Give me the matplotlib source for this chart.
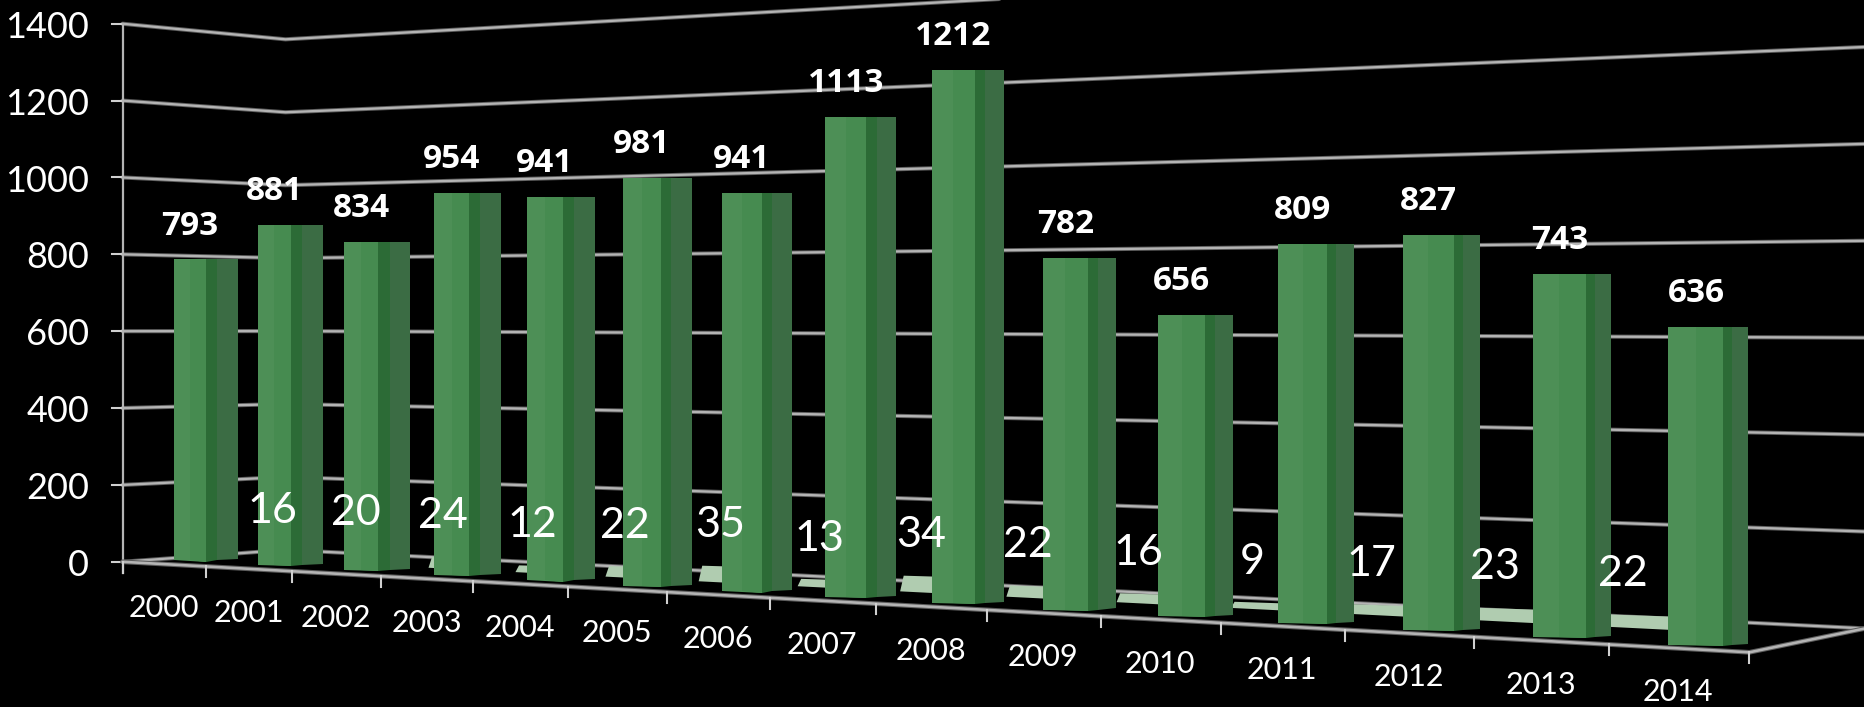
import matplotlib
matplotlib.use("Agg")
import matplotlib.pyplot as plt
from matplotlib.patches import Polygon

years = [str(y) for y in range(2000, 2015)]
series_a = [793, 881, 834, 954, 941, 981, 941, 1113, 1212, 782, 656, 809, 827, 743, 636]
# second series starts one year later, no value for 2000
series_b = [16, 20, 24, 12, 22, 35, 13, 34, 22, 16, 9, 17, 23, 22]
y_ticks = [0, 200, 400, 600, 800, 1000, 1200, 1400]

LINE = "#b4b4b4"
FRONT = "#4d8f56"
FRONT_DARK = "#468b50"
RIDGE = "#2c6b36"
SIDE = "#3b6c44"
PALE = "#b0ccb0"


# perspective of the old 3D chart, in units of the downscaled 1568x594 view
def px(t):
    return (103 + 67.17 * t) / (1 - 0.01633 * t)


def floor_front(x):
    return 472 + (x - 103) * 0.0556


def bar_scale(x):
    return 0.3135 + 7.88e-5 * (x - 103)


def bar_y(x, v):
    return 467 + 0.0556 * (x - 103) - v * bar_scale(x)


def wall_back(x, v):
    f = (x - 240) / 1328
    return 462 + 66 * f - v * (0.3064 + 0.1007 * f)


def wall_side(v):
    return 472 - v * 0.3229


def soft_line(xs, ys, width=3.0):
    # the source is a blurry screenshot, so a dim wide line under a bright thin one
    ax.plot(xs, ys, color="#5c5c5c", lw=width, zorder=1, solid_capstyle="round")
    ax.plot(xs, ys, color=LINE, lw=width * 0.55, zorder=1, solid_capstyle="round")


fig = plt.figure(figsize=(18.65, 7.07), dpi=100, facecolor="black")
ax = fig.add_axes([0, 0, 1, 1])
ax.set_xlim(0, 1568)
ax.set_ylim(594, 0)
ax.axis("off")

# walls and gridlines
for v in y_ticks:
    soft_line([103, 240, 1568], [wall_side(v), wall_back(240, v), wall_back(1568, v)])
    ax.plot([94, 103], [wall_side(v), wall_side(v)], color="#d0d0d0", lw=1.5, zorder=1)
    ax.text(75, wall_side(v) + 3, str(v), color="white", fontsize=26, family="Lato",
            ha="right", va="center")
ax.plot([103, 103], [wall_side(1400), wall_side(0) + 9], color=LINE, lw=1.6, zorder=1)

# floor front edge
soft_line([103, px(15), 1568], [floor_front(103), floor_front(px(15)), wall_back(1568, 0)], 3.4)
for i in range(16):
    x = px(i)
    ax.plot([x, x], [floor_front(x), floor_front(x) + 9], color="#d0d0d0", lw=1.5, zorder=1)

# second series, mostly hidden behind the front bars
for i, v in enumerate(series_b, start=1):
    t = i + 0.78 - 0.052 * (i - 1)
    xc = px(t)
    x0, x1 = xc - min(6 + 2 * i, 18), px(t + 0.35)
    b0 = 471 + (x0 - 240) * 0.05
    b1 = 471 + (x1 - 240) * 0.05
    ax.add_patch(Polygon([(x0, b0), (x0 + 3, b0 - v * bar_scale(x0) * 0.9 - 2),
                          (x1, b1 - v * bar_scale(x1) * 0.9 - 3), (x1, b1)],
                         facecolor=PALE, edgecolor="none", zorder=2))
    top = 471 + (xc - 240) * 0.05 - v * bar_scale(xc)
    ax.text(xc, top - 36, str(v), color="white", fontsize=31, family="Lato",
            ha="center", va="center", zorder=5)

# front bars
for i, v in enumerate(series_a):
    left = px(i + 0.62 - 0.0136 * i)
    ridge = px(i + 1.0 - 0.013 * i)
    right = px(i + 1.38 - 0.028 * i)
    mid = ridge + (right - ridge) * 0.35
    yt = bar_y(ridge, v)
    yb = bar_y(ridge, 0)
    ax.add_patch(Polygon([(left, yb), (left, yt), (ridge, yt), (ridge, yb + 1)],
                         facecolor=FRONT, edgecolor="none", zorder=3))
    ax.add_patch(Polygon([((left + ridge) / 2, yb), ((left + ridge) / 2, yt),
                          (ridge, yt), (ridge, yb + 1)],
                         facecolor=FRONT_DARK, edgecolor="none", zorder=3))
    ax.add_patch(Polygon([(ridge, yb + 1), (ridge, yt), (mid, yt), (mid, yb)],
                         facecolor=RIDGE, edgecolor="none", zorder=3))
    ax.add_patch(Polygon([(mid, yb), (mid, yt), (right, yt), (right, yb - 1)],
                         facecolor=SIDE, edgecolor="none", zorder=3))
    ax.text((left + ridge) / 2, yt - 28, str(v), color="white", fontsize=24,
            family="Open Sans", fontweight="bold", ha="center", va="center", zorder=5)

# year labels under the floor
for i, name in enumerate(years):
    x = px(i + 0.5)
    ax.text(x, floor_front(x) + 37, name, color="white", fontsize=22, family="Lato",
            ha="center", va="center")

fig.savefig("out.png", dpi=100, facecolor="black")
plt.close(fig)
